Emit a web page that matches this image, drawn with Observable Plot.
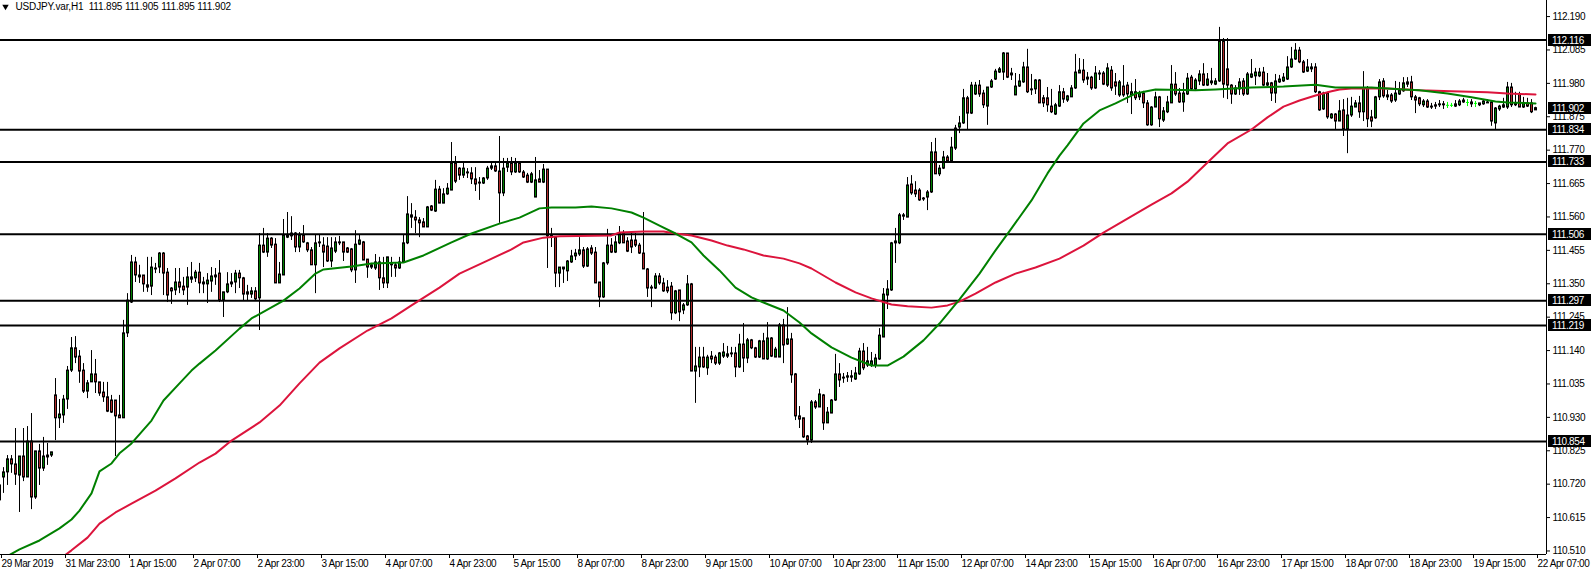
<!DOCTYPE html>
<html>
<head>
<meta charset="utf-8">
<script src="https://cdn.jsdelivr.net/npm/d3@7"></script>
<script src="https://cdn.jsdelivr.net/npm/@observablehq/plot@0.6"></script>
<style>
html, body { margin: 0; padding: 0; background: #ffffff; }
#chart { position: relative; width: 1591px; height: 571px; overflow: hidden; }
</style>
</head>
<body>
<div id="chart"></div>
<script>
// ---------------- DATA ----------------
const symbol = "USDJPY.var";
const timeframe = "H1";

const opens = [
110.716,110.741,110.757,110.798,110.782,110.747,110.807,110.741,110.854,110.678,
110.823,110.769,110.804,110.810,110.999,110.927,110.936,110.986,111.077,111.147,
111.121,111.077,111.011,111.040,111.065,111.040,111.008,110.993,110.983,110.983,
110.936,110.927,111.194,111.291,111.417,111.370,111.376,111.345,111.341,111.395,
111.401,111.445,111.385,111.335,111.329,111.354,111.341,111.338,111.363,111.367,
111.385,111.348,111.348,111.357,111.370,111.382,111.297,111.323,111.348,111.354,
111.382,111.367,111.323,111.316,111.326,111.304,111.470,111.448,111.492,111.473,
111.351,111.376,111.495,111.508,111.508,111.464,111.502,111.477,111.455,111.408,
111.477,111.470,111.467,111.420,111.451,111.477,111.480,111.461,111.458,111.392,
111.473,111.480,111.426,111.408,111.398,111.417,111.367,111.351,111.408,111.408,
111.398,111.417,111.477,111.565,111.558,111.549,111.543,111.527,111.593,111.577,
111.646,111.602,111.631,111.643,111.728,111.712,111.690,111.697,111.697,111.678,
111.668,111.665,111.681,111.712,111.719,111.703,111.634,111.715,111.728,111.700,
111.728,111.700,111.690,111.668,111.621,111.678,111.668,111.709,111.502,111.495,
111.382,111.401,111.389,111.417,111.436,111.442,111.455,111.404,111.461,111.448,
111.354,111.307,111.414,111.470,111.448,111.477,111.508,111.483,111.486,111.486,
111.470,111.445,111.395,111.338,111.335,111.373,111.351,111.338,111.341,111.257,
111.329,111.266,111.282,111.348,111.074,111.087,111.118,111.084,111.121,111.118,
111.099,111.121,111.121,111.128,111.131,111.087,111.159,111.115,111.172,111.147,
111.118,111.169,111.112,111.178,111.118,111.118,111.219,111.159,111.175,111.065,
110.933,110.927,110.870,110.857,110.977,110.961,110.999,110.911,110.942,110.983,
111.065,111.052,111.055,111.055,111.049,111.065,111.137,111.093,111.093,111.093,
111.112,111.181,111.313,111.329,111.477,111.477,111.561,111.558,111.662,111.643,
111.643,111.615,111.621,111.637,111.763,111.694,111.712,111.747,111.734,111.775,
111.841,111.854,111.933,111.885,111.945,111.973,111.948,111.907,111.967,111.992,
112.014,112.014,112.074,112.011,111.942,111.970,111.983,112.030,111.958,111.961,
111.989,111.933,111.933,111.907,111.882,111.907,111.952,111.926,111.936,111.964,
112.011,112.020,111.998,111.998,111.964,112.008,112.011,111.973,112.020,111.983,
111.942,111.970,111.973,111.942,111.952,111.936,111.948,111.917,111.848,111.904,
111.936,111.863,111.889,111.917,111.976,111.948,111.920,111.945,111.998,111.961,
111.986,112.008,111.973,111.986,111.976,111.986,112.112,112.024,111.973,111.945,
111.961,111.986,111.945,111.998,112.002,112.002,112.014,111.973,111.980,111.948,
111.983,111.986,111.992,112.030,112.055,112.083,112.046,112.017,112.024,112.030,
111.952,111.898,111.948,111.870,111.882,111.860,111.895,111.835,111.879,111.904,
111.917,111.889,111.964,111.873,111.870,111.936,111.986,111.942,111.942,111.926,
111.945,111.955,111.976,111.983,111.936,111.933,111.911,111.923,111.907,111.911,
111.911,111.914,111.911,111.911,111.914,111.911,111.920,111.920,111.920,111.917,
111.917,111.914,111.917,111.920,111.854,111.898,111.904,111.904,111.967,111.911,
111.945,111.904,111.917,111.917,111.895
];

const highs = [
110.741,110.772,110.810,110.810,110.895,110.807,110.895,110.901,110.942,110.823,
110.845,110.867,110.848,110.820,111.052,110.986,110.999,111.090,111.181,111.184,
111.140,111.099,111.046,111.140,111.112,111.040,111.040,111.040,110.999,110.983,
110.999,111.235,111.319,111.439,111.433,111.408,111.376,111.433,111.433,111.414,
111.448,111.448,111.398,111.338,111.398,111.398,111.370,111.401,111.417,111.392,
111.414,111.370,111.382,111.401,111.398,111.423,111.323,111.385,111.382,111.392,
111.392,111.370,111.345,111.338,111.338,111.508,111.524,111.508,111.495,111.492,
111.417,111.552,111.574,111.561,111.511,111.511,111.533,111.480,111.464,111.502,
111.502,111.495,111.495,111.495,111.495,111.499,111.480,111.464,111.461,111.517,
111.502,111.483,111.426,111.414,111.442,111.433,111.433,111.433,111.433,111.414,
111.433,111.502,111.624,111.602,111.580,111.558,111.555,111.593,111.596,111.675,
111.656,111.649,111.665,111.794,111.750,111.715,111.728,111.712,111.715,111.715,
111.684,111.684,111.719,111.728,111.728,111.813,111.744,111.744,111.747,111.744,
111.731,111.706,111.697,111.700,111.747,111.706,111.725,111.709,111.524,111.495,
111.401,111.401,111.423,111.455,111.458,111.495,111.464,111.464,111.470,111.464,
111.354,111.417,111.521,111.492,111.499,111.530,111.517,111.495,111.508,111.508,
111.477,111.574,111.398,111.345,111.382,111.382,111.367,111.360,111.354,111.329,
111.329,111.288,111.376,111.351,111.150,111.150,111.150,111.125,111.137,111.125,
111.134,111.162,111.153,111.150,111.150,111.191,111.225,111.178,111.175,111.150,
111.172,111.194,111.228,111.181,111.150,111.225,111.238,111.275,111.194,111.068,
110.964,110.927,110.873,110.983,110.983,111.018,111.002,110.961,110.986,111.128,
111.099,111.068,111.071,111.077,111.087,111.147,111.162,111.150,111.134,111.128,
111.209,111.335,111.360,111.480,111.524,111.571,111.571,111.684,111.690,111.671,
111.649,111.621,111.643,111.794,111.807,111.722,111.766,111.753,111.810,111.848,
111.876,111.961,111.939,111.983,111.983,111.989,111.958,111.967,111.992,112.024,
112.030,112.077,112.074,112.027,112.011,112.008,112.046,112.087,112.008,111.992,
111.992,111.942,111.967,111.961,111.917,111.973,111.964,111.942,111.973,112.071,
112.058,112.055,112.014,112.002,112.033,112.020,112.017,112.042,112.033,112.011,
111.989,112.036,111.983,111.980,111.992,111.955,111.955,111.926,111.907,111.952,
111.939,111.904,111.939,112.036,112.014,111.964,111.980,112.011,112.005,111.995,
112.020,112.042,112.011,112.027,111.995,112.156,112.121,112.121,111.976,111.973,
111.995,111.995,112.014,112.055,112.027,112.027,112.030,112.011,111.983,112.008,
112.005,112.011,112.064,112.093,112.105,112.093,112.052,112.055,112.042,112.042,
111.955,111.952,111.952,111.885,111.885,111.926,111.929,111.933,111.936,111.926,
111.939,112.017,111.970,111.895,111.939,111.992,111.995,111.958,111.948,111.986,
111.983,111.998,111.998,112.002,111.942,111.936,111.929,111.929,111.917,111.920,
111.926,111.923,111.920,111.917,111.926,111.929,111.933,111.929,111.929,111.923,
111.917,111.929,111.929,111.923,111.904,111.911,111.933,111.983,111.980,111.952,
111.952,111.936,111.933,111.929,111.905
];

const lows = [
110.590,110.691,110.716,110.754,110.716,110.631,110.728,110.741,110.640,110.672,
110.716,110.760,110.779,110.804,110.857,110.895,110.911,110.955,111.071,111.099,
111.037,111.005,110.989,111.040,111.005,110.996,110.977,110.945,110.942,110.807,
110.927,110.927,111.181,111.288,111.354,111.351,111.323,111.323,111.313,111.382,
111.382,111.313,111.291,111.285,111.313,111.319,111.313,111.282,111.351,111.354,
111.319,111.319,111.288,111.323,111.345,111.291,111.244,111.319,111.338,111.319,
111.335,111.297,111.297,111.304,111.297,111.203,111.445,111.433,111.461,111.351,
111.351,111.376,111.492,111.486,111.448,111.448,111.477,111.448,111.408,111.319,
111.464,111.401,111.417,111.401,111.445,111.470,111.420,111.445,111.385,111.351,
111.470,111.423,111.367,111.395,111.392,111.329,111.335,111.335,111.370,111.370,
111.395,111.414,111.473,111.524,111.508,111.495,111.527,111.527,111.577,111.574,
111.602,111.602,111.628,111.643,111.665,111.675,111.681,111.681,111.662,111.640,
111.612,111.662,111.675,111.706,111.700,111.540,111.624,111.700,111.690,111.697,
111.697,111.681,111.665,111.665,111.621,111.668,111.665,111.398,111.464,111.338,
111.338,111.351,111.357,111.414,111.423,111.436,111.398,111.401,111.439,111.351,
111.275,111.304,111.408,111.445,111.445,111.473,111.477,111.448,111.445,111.464,
111.442,111.395,111.307,111.275,111.332,111.345,111.323,111.319,111.235,111.253,
111.231,111.253,111.279,111.074,110.974,111.055,111.084,111.062,111.099,111.093,
111.093,111.115,111.115,111.118,111.055,111.084,111.071,111.099,111.143,111.115,
111.115,111.112,111.109,111.118,111.118,111.118,111.099,111.156,111.037,110.920,
110.895,110.864,110.842,110.848,110.955,110.961,110.889,110.911,110.942,110.980,
111.024,111.037,111.040,111.040,111.046,111.062,111.077,111.087,111.087,111.084,
111.109,111.181,111.269,111.326,111.414,111.473,111.549,111.558,111.628,111.621,
111.609,111.609,111.580,111.634,111.694,111.687,111.709,111.728,111.731,111.769,
111.822,111.851,111.835,111.882,111.942,111.936,111.901,111.848,111.964,111.989,
112.011,111.989,111.995,111.989,111.942,111.967,111.980,111.948,111.942,111.945,
111.917,111.904,111.889,111.885,111.879,111.904,111.917,111.920,111.936,111.961,
112.011,111.980,111.973,111.958,111.961,111.989,111.973,111.967,111.955,111.942,
111.936,111.936,111.917,111.882,111.926,111.926,111.901,111.845,111.845,111.904,
111.841,111.857,111.885,111.917,111.939,111.917,111.889,111.942,111.955,111.955,
111.973,111.970,111.970,111.973,111.973,111.983,111.933,111.929,111.914,111.942,
111.942,111.939,111.942,111.995,111.973,111.998,111.970,111.970,111.923,111.917,
111.980,111.983,111.989,112.027,112.052,112.042,112.011,112.014,112.014,111.948,
111.892,111.895,111.867,111.867,111.835,111.860,111.813,111.759,111.873,111.904,
111.870,111.860,111.841,111.841,111.867,111.926,111.933,111.926,111.917,111.920,
111.942,111.952,111.967,111.926,111.885,111.907,111.904,111.901,111.898,111.898,
111.904,111.898,111.901,111.904,111.904,111.907,111.917,111.907,111.904,111.904,
111.907,111.911,111.917,111.845,111.835,111.892,111.901,111.898,111.904,111.907,
111.904,111.901,111.904,111.885,111.895
];

const closes = [
110.669,110.757,110.798,110.782,110.750,110.807,110.741,110.854,110.678,110.823,
110.769,110.807,110.810,110.820,110.927,110.939,110.986,111.077,111.147,111.118,
111.074,111.011,111.037,111.065,111.040,111.005,110.993,110.948,110.945,110.933,
110.927,111.194,111.297,111.417,111.376,111.376,111.348,111.338,111.401,111.398,
111.445,111.382,111.313,111.326,111.354,111.338,111.329,111.370,111.370,111.385,
111.351,111.354,111.360,111.373,111.376,111.297,111.323,111.348,111.354,111.382,
111.367,111.316,111.316,111.326,111.301,111.470,111.448,111.492,111.470,111.351,
111.379,111.502,111.502,111.499,111.464,111.502,111.480,111.455,111.408,111.477,
111.480,111.448,111.420,111.461,111.480,111.480,111.448,111.448,111.392,111.473,
111.486,111.423,111.401,111.401,111.417,111.367,111.351,111.433,111.411,111.398,
111.417,111.477,111.568,111.558,111.549,111.540,111.527,111.590,111.580,111.646,
111.602,111.631,111.649,111.728,111.671,111.690,111.712,111.700,111.678,111.662,
111.665,111.681,111.712,111.719,111.703,111.634,111.712,111.728,111.700,111.728,
111.700,111.684,111.668,111.694,111.675,111.668,111.709,111.499,111.495,111.382,
111.401,111.395,111.420,111.436,111.445,111.455,111.404,111.458,111.445,111.351,
111.307,111.414,111.470,111.448,111.480,111.508,111.477,111.451,111.464,111.470,
111.445,111.395,111.335,111.335,111.373,111.351,111.326,111.326,111.257,111.326,
111.260,111.282,111.348,111.074,111.090,111.118,111.087,111.118,111.112,111.099,
111.131,111.134,111.128,111.131,111.087,111.159,111.115,111.172,111.147,111.118,
111.169,111.112,111.178,111.121,111.143,111.219,111.156,111.175,111.062,110.933,
110.923,110.867,110.857,110.977,110.961,111.002,110.911,110.945,110.983,111.065,
111.046,111.055,111.059,111.059,111.068,111.137,111.084,111.106,111.106,111.115,
111.187,111.316,111.332,111.477,111.483,111.565,111.565,111.659,111.634,111.631,
111.612,111.618,111.637,111.763,111.694,111.712,111.747,111.734,111.778,111.838,
111.854,111.933,111.885,111.973,111.973,111.945,111.911,111.967,111.986,112.017,
112.024,112.074,111.998,112.005,111.970,111.986,112.030,111.952,111.961,111.989,
111.917,111.917,111.911,111.889,111.911,111.952,111.929,111.939,111.964,112.014,
112.020,111.989,111.992,111.964,112.011,112.011,111.976,112.027,111.964,111.970,
111.983,111.942,111.945,111.952,111.933,111.948,111.917,111.848,111.904,111.936,
111.867,111.892,111.920,111.976,111.945,111.920,111.948,111.995,111.961,111.989,
112.008,111.973,111.992,111.980,111.986,112.112,111.976,111.973,111.945,111.964,
111.983,111.945,112.008,112.008,112.014,112.014,111.973,111.980,111.948,111.986,
111.992,111.998,112.030,112.055,112.083,112.046,112.014,112.030,112.030,111.952,
111.895,111.948,111.873,111.882,111.860,111.892,111.835,111.879,111.907,111.917,
111.889,111.964,111.867,111.860,111.936,111.983,111.939,111.936,111.923,111.948,
111.958,111.980,111.983,111.936,111.926,111.914,111.923,111.904,111.904,111.907,
111.914,111.911,111.911,111.911,111.907,111.923,111.926,111.920,111.914,111.917,
111.911,111.923,111.920,111.860,111.901,111.907,111.911,111.967,111.911,111.917,
111.904,111.917,111.907,111.889,111.902
];

// moving averages (bar number, price)
const greenMaBars = [0,5,10,15,18,20,23,25,28,30,33,38,41,45,48,50,54,60,63,71,75,79,81,88,93,101,106,113,118,125,130,135,138,144,148,153,158,161,165,169,173,176,180,184,188,191,196,200,203,208,213,218,222,226,231,235,240,245,249,253,258,262,265,267,271,275,279,284,289,299,304,313,321,329,334,343,351,355,362,368,374,377,384];
const greenMaValues = [110.480,110.515,110.543,110.581,110.609,110.637,110.691,110.760,110.785,110.817,110.848,110.920,110.983,111.037,111.077,111.099,111.140,111.209,111.241,111.297,111.335,111.382,111.395,111.404,111.414,111.417,111.439,111.480,111.508,111.539,111.558,111.587,111.590,111.590,111.593,111.587,111.574,111.558,111.533,111.508,111.480,111.439,111.392,111.338,111.307,111.291,111.266,111.228,111.194,111.150,111.118,111.093,111.093,111.121,111.172,111.225,111.301,111.382,111.455,111.524,111.612,111.697,111.753,111.785,111.854,111.895,111.917,111.948,111.961,111.958,111.961,111.967,111.970,111.976,111.967,111.967,111.961,111.958,111.948,111.936,111.923,111.920,111.917];
const redMaBars = [16,18,22,25,29,33,39,44,50,54,58,65,70,75,80,85,92,98,103,110,115,122,128,131,136,140,153,155,161,166,169,173,178,182,186,191,196,200,203,209,214,218,223,227,233,237,240,244,249,254,259,265,271,276,282,288,293,297,302,307,313,317,321,325,329,333,335,338,347,355,363,372,377,384];
const redMaValues = [110.493,110.512,110.552,110.596,110.631,110.659,110.700,110.738,110.788,110.816,110.857,110.914,110.967,111.037,111.102,111.147,111.203,111.241,111.282,111.338,111.382,111.423,111.458,111.480,111.495,111.499,111.502,111.511,111.514,111.514,111.508,111.502,111.486,111.470,111.458,111.439,111.429,111.414,111.398,111.354,111.323,111.304,111.285,111.279,111.275,111.282,111.294,111.319,111.354,111.382,111.401,111.429,111.470,111.511,111.555,111.599,111.634,111.671,111.731,111.791,111.835,111.873,111.907,111.926,111.942,111.955,111.961,111.964,111.964,111.958,111.955,111.952,111.948,111.945];

const levels = [112.116, 111.834, 111.733, 111.506, 111.297, 111.219, 110.854];
const priceTicks = [112.190,112.085,111.980,111.875,111.770,111.665,111.560,111.455,111.350,111.245,111.140,111.035,110.930,110.825,110.720,110.615,110.510];
const tickBars = [0,16,32,48,64,80,96,112,128,144,160,176,192,208,224,240,256,272,288,304,320,336,352,368,384];
const timeLabels = ["29 Mar 2019","31 Mar 23:00","1 Apr 15:00","2 Apr 07:00","2 Apr 23:00","3 Apr 15:00","4 Apr 07:00","4 Apr 23:00","5 Apr 15:00","8 Apr 07:00","8 Apr 23:00","9 Apr 15:00","10 Apr 07:00","10 Apr 23:00","11 Apr 15:00","12 Apr 07:00","14 Apr 23:00","15 Apr 15:00","16 Apr 07:00","16 Apr 23:00","17 Apr 15:00","18 Apr 07:00","18 Apr 23:00","19 Apr 15:00","22 Apr 07:00"];

// ---------------- STYLE ----------------
const bullColor = "#008000";
const bearColor = "#b02a2a";
const dojiColor = "#00ff00";
const maGreen = "#008000";
const maRed = "#dc143c";
const xDomain = [0.25, 386.75];
const yDomain = [110.4989, 112.2405];

// ---------------- BUILD ----------------
const bars = opens.map((o, i) => ({i, o, h: highs[i], l: lows[i], c: closes[i]}));
const solid = bars.filter(d => d.o !== d.c);
const doji = bars.filter(d => d.o === d.c);
const greenMA = greenMaBars.map((i, k) => ({i, v: greenMaValues[k]}));
const redMA = redMaBars.map((i, k) => ({i, v: redMaValues[k]}));
const fmt = d3.format(".3f");
const last = bars[bars.length - 1];
const title = `${symbol},${timeframe}\u00a0\u00a0${fmt(last.o)} ${fmt(last.h)} ${fmt(last.l)} ${fmt(last.c)}`;

const chart = Plot.plot({
  width: 1591,
  height: 571,
  marginTop: 0,
  marginRight: 45,
  marginBottom: 17,
  marginLeft: 0,
  style: {fontFamily: "'Liberation Sans', Arial, sans-serif", fontSize: "10px", background: "#ffffff", color: "#000000"},
  x: {type: "linear", domain: xDomain, label: null},
  y: {type: "linear", domain: yDomain, label: null},
  marks: [
    Plot.ruleX(solid, {x: "i", y1: "l", y2: "h", stroke: "#000", strokeWidth: 1, clip: true}),
    Plot.rect(solid, {
      x1: d => d.i - 0.125, x2: d => d.i + 0.375, y1: "o", y2: "c",
      fill: d => d.c > d.o ? bullColor : bearColor,
      stroke: "#000", strokeWidth: 1, clip: true
    }),
    Plot.ruleX(doji, {x: "i", y1: "l", y2: "h", stroke: dojiColor, clip: true}),
    Plot.ruleY(doji, {y: "o", x1: d => d.i - 0.25, x2: d => d.i + 0.5, stroke: dojiColor, clip: true}),
    Plot.ruleY(levels, {stroke: "#000", strokeWidth: 2}),
    Plot.line(redMA, {x: "i", y: "v", stroke: maRed, strokeWidth: 2, clip: true}),
    Plot.line(greenMA, {x: "i", y: "v", stroke: maGreen, strokeWidth: 2, clip: true}),
    Plot.ruleY([yDomain[0]], {stroke: "#000"}),
    Plot.ruleX([xDomain[1]], {stroke: "#000"}),
    Plot.axisY(priceTicks, {anchor: "right", tickFormat: fmt, tickSize: 3, tickPadding: 3, label: null}),
    Plot.axisX(tickBars, {anchor: "bottom", tickFormat: d => timeLabels[tickBars.indexOf(d)], tickSize: 4, tickPadding: 1, textAnchor: "start", dx: 2, label: null}),
    Plot.dot([0], {frameAnchor: "top-left", dx: 5, dy: 6, symbol: "triangle", r: 2.4, fill: "#000", rotate: 180}),
    Plot.text([title], {text: d => d, frameAnchor: "top-left", dx: 15, dy: 6, textAnchor: "start", lineAnchor: "middle", fill: "#000"})
  ]
});

const svg = d3.select(chart);
svg.style("letter-spacing", "-0.4px");
svg.selectAll("text").filter(function () { return this.textContent === title; }).style("letter-spacing", "-0.15px");
const ys = chart.scale("y");
const boxes = [...levels, last.c];
const g = svg.append("g").attr("class", "price-boxes").attr("text-anchor", "start");
for (const v of boxes) {
  const y = Math.round(ys.apply(v));
  g.append("rect").attr("x", 1548).attr("y", y - 6).attr("width", 43).attr("height", 12).attr("fill", "#000");
  g.append("text").attr("x", 1552).attr("y", y).attr("dy", "0.35em").attr("text-anchor", "start").attr("fill", "#fff").text(fmt(v));
}

document.getElementById("chart").appendChild(chart);
</script>
</body>
</html>
